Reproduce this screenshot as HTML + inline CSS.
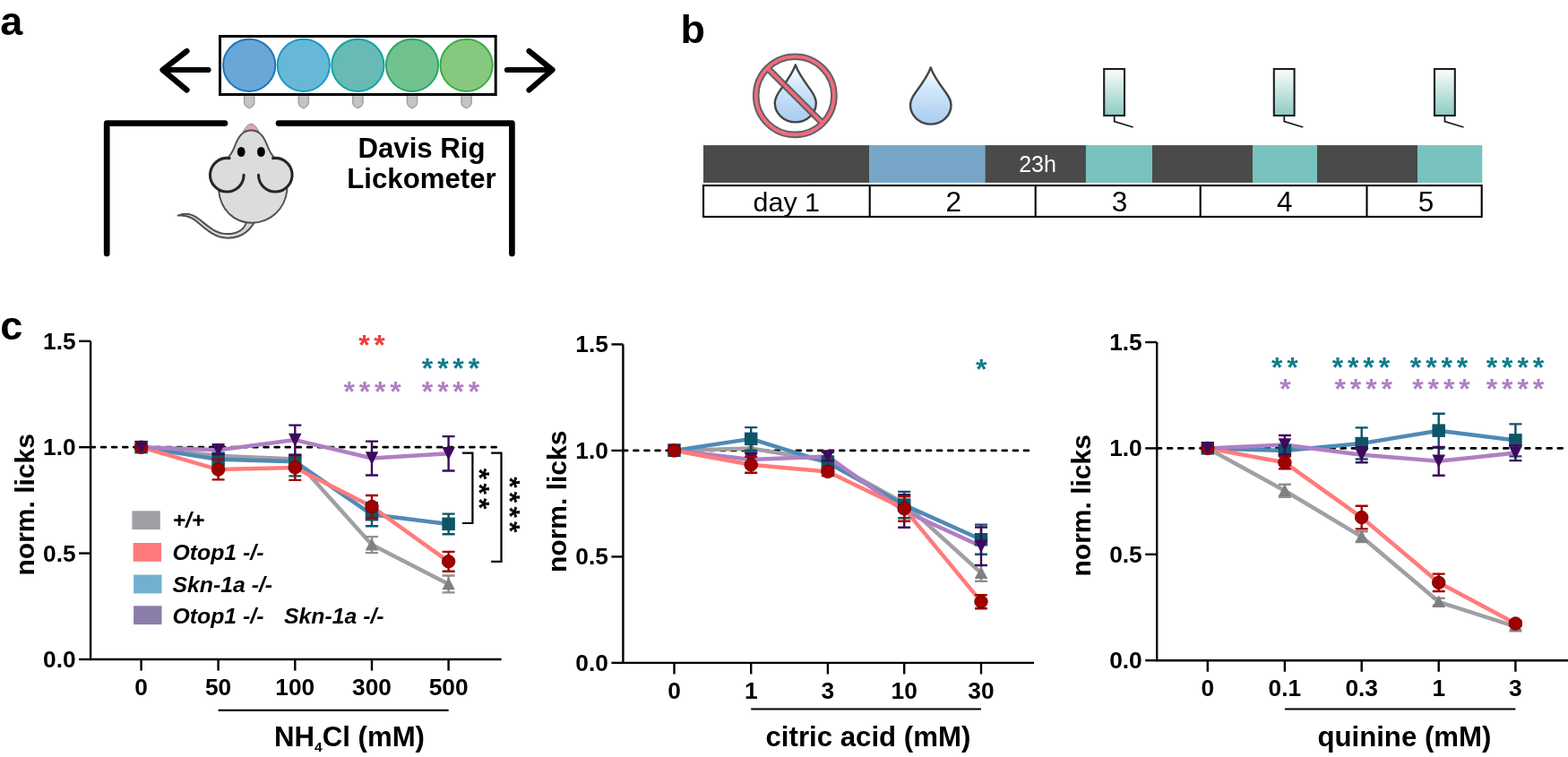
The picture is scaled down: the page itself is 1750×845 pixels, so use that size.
<!DOCTYPE html>
<html><head><meta charset="utf-8"><title>Figure</title>
<style>
html,body{margin:0;padding:0;background:#fff;width:1750px;height:845px;overflow:hidden}
svg{display:block}
text{font-family:"Liberation Sans", Arial, sans-serif;}
</style></head><body>
<svg width="1750" height="845" viewBox="0 0 1750 845">
<rect width="1750" height="845" fill="#fff"/>
<text x="0.3" y="39" font-size="45" font-weight="bold">a</text>
<text x="759.5" y="48.3" font-size="45" font-weight="bold">b</text>
<text x="0.3" y="378.7" font-size="45" font-weight="bold">c</text>
<g stroke="#000" stroke-width="6.2" fill="none" stroke-linecap="round" stroke-linejoin="round">
<path d="M232.5 78 H181.5 M208.5 57 L181.5 78 L208.5 100.5"/>
<path d="M566 78 H616.5 M590.5 57 L616.5 78 L590.5 100.5"/>
</g>
<path d="M272.6 106 V114.3 C272.6 117.5 276.0 120.3 278.2 120.6 C280.4 120.3 283.8 117.5 283.8 114.3 V106 Z" fill="#c4c4c4" stroke="#a6a6a6" stroke-width="1.6"/>
<path d="M333.2 106 V114.3 C333.2 117.5 336.6 120.3 338.8 120.6 C341.0 120.3 344.4 117.5 344.4 114.3 V106 Z" fill="#c4c4c4" stroke="#a6a6a6" stroke-width="1.6"/>
<path d="M393.8 106 V114.3 C393.8 117.5 397.2 120.3 399.4 120.6 C401.6 120.3 405.0 117.5 405.0 114.3 V106 Z" fill="#c4c4c4" stroke="#a6a6a6" stroke-width="1.6"/>
<path d="M454.4 106 V114.3 C454.4 117.5 457.8 120.3 460.0 120.6 C462.2 120.3 465.6 117.5 465.6 114.3 V106 Z" fill="#c4c4c4" stroke="#a6a6a6" stroke-width="1.6"/>
<path d="M515.0 106 V114.3 C515.0 117.5 518.4 120.3 520.6 120.6 C522.8 120.3 526.2 117.5 526.2 114.3 V106 Z" fill="#c4c4c4" stroke="#a6a6a6" stroke-width="1.6"/>
<rect x="245.5" y="40.5" width="307.7" height="65" fill="#fff" stroke="#000" stroke-width="3"/>
<circle cx="278.2" cy="72.8" r="29.1" fill="#6aa6d6" stroke="#1b75bc" stroke-width="2"/>
<circle cx="338.8" cy="72.8" r="29.1" fill="#66b8d6" stroke="#1a99cc" stroke-width="2"/>
<circle cx="399.4" cy="72.8" r="29.1" fill="#68bab4" stroke="#11a3a6" stroke-width="2"/>
<circle cx="460.0" cy="72.8" r="29.1" fill="#70c28f" stroke="#2ea46c" stroke-width="2"/>
<circle cx="520.6" cy="72.8" r="29.1" fill="#86c87e" stroke="#3aae48" stroke-width="2"/>
<g stroke="#000" stroke-width="6.7" fill="none" stroke-linecap="round" stroke-linejoin="round">
<path d="M119.2 283 V137.6 H251"/>
<path d="M311 137.6 H571.4 V283"/>
</g>
<text x="470.5" y="175.8" font-size="31.2" font-weight="bold" text-anchor="middle">Davis Rig</text>
<text x="470.5" y="210.4" font-size="31.2" font-weight="bold" text-anchor="middle">Lickometer</text>
<path d="M275 248 C273 256 265 261.1 254 261.1 C240 261.2 232 252 222 244.5 C214 238.5 206 237.5 198.7 240.6 C206 239.8 213 241.5 220 247.5 C230 256 240 265.7 254 265.7 C268 265.7 278 259 284.5 247 Z" fill="#d6d6d6" stroke="#505050" stroke-width="2" stroke-linejoin="round"/>
<path d="M271.5 147 Q275.5 138.6 280.3 138.3 Q285 138.6 289 147 Z" fill="#e3a6a8" stroke="#8a8a8a" stroke-width="1"/>
<path d="M280.3 145.5 C270.5 145.5 266 153 262.5 162 C259.5 170 257.5 173 254 176.5 L244 212 C246 235 262 248.7 281 248.7 C300 248.7 318 235 320.5 212 L306.6 176.5 C303.1 173 301.1 170 298.1 162 C294.6 153 290.1 145.5 280.3 145.5 Z" fill="#dcdcdc" stroke="#505050" stroke-width="2"/>
<g fill="#dcdcdc" stroke="#262626" stroke-width="3.1" stroke-linecap="round">
<path d="M272.1 195.2 A18.8 18.8 0 1 1 256.0 176.6" />
<path d="M288.5 195.2 A18.8 18.8 0 1 0 304.6 176.6" />
</g>
<ellipse cx="269.2" cy="169.5" rx="4.4" ry="5.6" fill="#000"/>
<ellipse cx="291.4" cy="169.5" rx="4.4" ry="5.6" fill="#000"/>
<defs><linearGradient id="gd" x1="0" y1="0" x2="0" y2="1"><stop offset="0.05" stop-color="#ffffff"/><stop offset="0.35" stop-color="#d3e9fb"/><stop offset="1" stop-color="#a8cbef"/></linearGradient><linearGradient id="gb" x1="0" y1="0" x2="0" y2="1"><stop offset="0" stop-color="#fbfdfd"/><stop offset="1" stop-color="#8ccbc3"/></linearGradient></defs>
<path d="M887.8 72.4 C885.1 81.1 879.1 89.1 871.1 100.1 C867.1 105.6 864.8 109.6 864.8 115.1 A23 21.3 0 0 0 910.8 115.1 C910.8 109.6 908.5 105.6 904.5 100.1 C896.5 89.1 890.5 81.1 887.8 72.4 Z" fill="url(#gd)" stroke="#454545" stroke-width="2.4" stroke-linejoin="round"/>
<g opacity="0.93">
<circle cx="887.3" cy="106.8" r="43.6" fill="none" stroke="#52575a" stroke-width="7.6"/>
<line x1="856.5" y1="76" x2="918.1" y2="137.6" stroke="#52575a" stroke-width="7.6"/>
<circle cx="887.3" cy="106.8" r="43.6" fill="none" stroke="#f65f70" stroke-width="3.6"/>
<line x1="856.5" y1="76" x2="918.1" y2="137.6" stroke="#f65f70" stroke-width="3.6"/>
</g>
<path d="M1038.7 75.3 C1036.0 84.0 1030.0 92.0 1022.0 103.0 C1018.0 108.5 1016.0 111.8 1016.0 117.3 A22.75 21.3 0 0 0 1061.5 117.3 C1061.5 111.8 1059.4 108.5 1055.4 103.0 C1047.4 92.0 1041.4 84.0 1038.7 75.3 Z" fill="url(#gd)" stroke="#454545" stroke-width="2.4" stroke-linejoin="round"/>
<rect x="1232.2" y="77" width="22.8" height="52" fill="url(#gb)" stroke="#1c1c1c" stroke-width="2.1"/>
<path d="M1243.7 130 V135.6 L1264.7 142" fill="none" stroke="#1c1c1c" stroke-width="1.8"/>
<rect x="1421.8" y="77" width="22.8" height="52" fill="url(#gb)" stroke="#1c1c1c" stroke-width="2.1"/>
<path d="M1433.3 130 V135.6 L1454.3 142" fill="none" stroke="#1c1c1c" stroke-width="1.8"/>
<rect x="1601.0" y="77" width="22.8" height="52" fill="url(#gb)" stroke="#1c1c1c" stroke-width="2.1"/>
<path d="M1612.5 130 V135.6 L1633.5 142" fill="none" stroke="#1c1c1c" stroke-width="1.8"/>
<rect x="785" y="162.1" width="185.3" height="41.8" fill="#4a4a4a"/>
<rect x="970" y="162.1" width="129.9" height="41.8" fill="#78a6c8"/>
<rect x="1099.6" y="162.1" width="112.6" height="41.8" fill="#4a4a4a"/>
<rect x="1211.9" y="162.1" width="74.4" height="41.8" fill="#78c3bd"/>
<rect x="1286" y="162.1" width="112.5" height="41.8" fill="#4a4a4a"/>
<rect x="1398.2" y="162.1" width="72.1" height="41.8" fill="#78c3bd"/>
<rect x="1470" y="162.1" width="112.3" height="41.8" fill="#4a4a4a"/>
<rect x="1582" y="162.1" width="72.3" height="41.8" fill="#78c3bd"/>
<text x="1158" y="192.2" font-size="25" fill="#fff" text-anchor="middle">23h</text>
<rect x="785.05" y="207.05" width="868.65" height="34.9" fill="none" stroke="#000" stroke-width="2.1"/>
<line x1="970.7" y1="207.05" x2="970.7" y2="241.95" stroke="#000" stroke-width="2.1"/>
<line x1="1155.7" y1="207.05" x2="1155.7" y2="241.95" stroke="#000" stroke-width="2.1"/>
<line x1="1339.7" y1="207.05" x2="1339.7" y2="241.95" stroke="#000" stroke-width="2.1"/>
<line x1="1525.5" y1="207.05" x2="1525.5" y2="241.95" stroke="#000" stroke-width="2.1"/>
<text x="877.8" y="235.9" font-size="30.4" text-anchor="middle">day 1</text>
<text x="1064.2" y="235.9" font-size="31.5" text-anchor="middle">2</text>
<text x="1249.4" y="235.9" font-size="31.5" text-anchor="middle">3</text>
<text x="1433.7" y="235.9" font-size="31.5" text-anchor="middle">4</text>
<text x="1591.4" y="235.9" font-size="31.5" text-anchor="middle">5</text>
<g stroke="#000" stroke-width="2.4" fill="none">
<path d="M101.1 380.79999999999995 V736.0 H559.6"/>
<line x1="88.1" y1="736.0" x2="101.1" y2="736.0"/>
<line x1="88.1" y1="617.6" x2="101.1" y2="617.6"/>
<line x1="88.1" y1="499.2" x2="101.1" y2="499.2"/>
<line x1="88.1" y1="380.8" x2="101.1" y2="380.8"/>
<line x1="157.6" y1="736.0" x2="157.6" y2="748.6"/>
<line x1="243.6" y1="736.0" x2="243.6" y2="748.6"/>
<line x1="329.3" y1="736.0" x2="329.3" y2="748.6"/>
<line x1="415.0" y1="736.0" x2="415.0" y2="748.6"/>
<line x1="500.6" y1="736.0" x2="500.6" y2="748.6"/>
<line x1="243.6" y1="792.8" x2="500.6" y2="792.8" stroke-width="2.2"/>
</g>
<line x1="101.0" y1="499.20" x2="553.6" y2="499.20" stroke="#000" stroke-width="2.7" stroke-dasharray="4.9 7.2" stroke-linecap="round"/>
<text x="84.6" y="745.0" font-size="26.3" font-weight="bold" text-anchor="end">0.0</text>
<text x="84.6" y="626.6" font-size="26.3" font-weight="bold" text-anchor="end">0.5</text>
<text x="84.6" y="508.2" font-size="26.3" font-weight="bold" text-anchor="end">1.0</text>
<text x="84.6" y="389.8" font-size="26.3" font-weight="bold" text-anchor="end">1.5</text>
<text x="157.6" y="776.1" font-size="26.3" font-weight="bold" text-anchor="middle">0</text>
<text x="243.6" y="776.1" font-size="26.3" font-weight="bold" text-anchor="middle">50</text>
<text x="329.3" y="776.1" font-size="26.3" font-weight="bold" text-anchor="middle">100</text>
<text x="415.0" y="776.1" font-size="26.3" font-weight="bold" text-anchor="middle">300</text>
<text x="500.6" y="776.1" font-size="26.3" font-weight="bold" text-anchor="middle">500</text>
<text transform="translate(38 563.3) rotate(-90)" font-size="30" font-weight="bold" text-anchor="middle">norm. licks</text>
<text x="306" y="833" font-size="31.2" font-weight="bold">NH<tspan font-size="15.5" dy="6">4</tspan><tspan dy="-6">Cl (mM)</tspan></text>
<polyline points="157.6,499.2 243.6,508.7 329.3,512.5 415.0,608.1 500.6,651.9" fill="none" stroke="#a0a0a4" stroke-width="4.5" stroke-linejoin="round"/>
<polyline points="157.6,499.2 243.6,512.7 329.3,515.3 415.0,574.3 500.6,584.9" fill="none" stroke="#4e8ab7" stroke-width="4.5" stroke-linejoin="round"/>
<polyline points="157.6,499.2 243.6,524.1 329.3,521.9 415.0,565.5 500.6,626.8" fill="none" stroke="#ff7b7b" stroke-width="4.5" stroke-linejoin="round"/>
<polyline points="157.6,499.2 243.6,502.3 329.3,491.1 415.0,511.5 500.6,506.3" fill="none" stroke="#b07fc4" stroke-width="4.5" stroke-linejoin="round"/>
<path d="M150.35 505.5 L157.6 491.9 L164.85 505.5 Z" fill="#808080"/>
<path d="M236.35 515.0 L243.6 501.4 L250.85 515.0 Z" fill="#808080"/>
<path d="M322.05 518.8 L329.3 505.2 L336.55 518.8 Z" fill="#808080"/>
<path d="M415.0 599.1 V617.1 M408.0 599.1 H422.0 M408.0 617.1 H422.0" stroke="#909090" stroke-width="2.4" fill="none"/>
<path d="M407.75 614.4 L415.0 600.8 L422.25 614.4 Z" fill="#808080"/>
<path d="M500.6 642.5 V661.4 M493.6 642.5 H507.6 M493.6 661.4 H507.6" stroke="#909090" stroke-width="2.4" fill="none"/>
<path d="M493.35 658.2 L500.6 644.6 L507.85 658.2 Z" fill="#808080"/>
<rect x="150.35" y="491.9" width="14.5" height="14.5" fill="#0d5566"/>
<path d="M243.6 505.6 V519.8 M236.6 505.6 H250.6 M236.6 519.8 H250.6" stroke="#0d5566" stroke-width="2.4" fill="none"/>
<rect x="236.35" y="505.5" width="14.5" height="14.5" fill="#0d5566"/>
<path d="M329.3 510.6 V531.4 M322.3 510.6 H336.3 M322.3 531.4 H336.3" stroke="#0d5566" stroke-width="2.4" fill="none"/>
<rect x="322.05" y="508.0" width="14.5" height="14.5" fill="#0d5566"/>
<path d="M415.0 561.2 V587.3 M408.0 561.2 H422.0 M408.0 587.3 H422.0" stroke="#0d5566" stroke-width="2.4" fill="none"/>
<rect x="407.75" y="567.0" width="14.5" height="14.5" fill="#0d5566"/>
<path d="M500.6 573.6 V596.3 M493.6 573.6 H507.6 M493.6 596.3 H507.6" stroke="#0d5566" stroke-width="2.4" fill="none"/>
<rect x="493.35" y="577.6" width="14.5" height="14.5" fill="#0d5566"/>
<circle cx="157.6" cy="499.2" r="7.3" fill="#a00000" stroke="#6a0000" stroke-width="0.8"/>
<path d="M243.6 512.7 V535.4 M236.6 512.7 H250.6 M236.6 535.4 H250.6" stroke="#a00000" stroke-width="2.4" fill="none"/>
<circle cx="243.6" cy="524.1" r="7.3" fill="#a00000" stroke="#6a0000" stroke-width="0.8"/>
<path d="M329.3 508.0 V535.9 M322.3 508.0 H336.3 M322.3 535.9 H336.3" stroke="#a00000" stroke-width="2.4" fill="none"/>
<circle cx="329.3" cy="521.9" r="7.3" fill="#a00000" stroke="#6a0000" stroke-width="0.8"/>
<path d="M415.0 553.0 V578.1 M408.0 553.0 H422.0 M408.0 578.1 H422.0" stroke="#a00000" stroke-width="2.4" fill="none"/>
<circle cx="415.0" cy="565.5" r="7.3" fill="#a00000" stroke="#6a0000" stroke-width="0.8"/>
<path d="M500.6 615.9 V637.7 M493.6 615.9 H507.6 M493.6 637.7 H507.6" stroke="#a00000" stroke-width="2.4" fill="none"/>
<circle cx="500.6" cy="626.8" r="7.3" fill="#a00000" stroke="#6a0000" stroke-width="0.8"/>
<path d="M150.35 491.9 L164.85 491.9 L157.6 506.5 Z" fill="#3d0a5c"/>
<path d="M243.6 497.5 V507.0 M236.6 497.5 H250.6 M236.6 507.0 H250.6" stroke="#3d0a5c" stroke-width="2.4" fill="none"/>
<path d="M236.35 495.0 L250.85 495.0 L243.6 509.6 Z" fill="#3d0a5c"/>
<path d="M329.3 474.6 V507.7 M322.3 474.6 H336.3 M322.3 507.7 H336.3" stroke="#3d0a5c" stroke-width="2.4" fill="none"/>
<path d="M322.05 483.8 L336.55 483.8 L329.3 498.4 Z" fill="#3d0a5c"/>
<path d="M415.0 492.6 V530.5 M408.0 492.6 H422.0 M408.0 530.5 H422.0" stroke="#3d0a5c" stroke-width="2.4" fill="none"/>
<path d="M407.75 504.2 L422.25 504.2 L415.0 518.8 Z" fill="#3d0a5c"/>
<path d="M500.6 487.1 V525.5 M493.6 487.1 H507.6 M493.6 525.5 H507.6" stroke="#3d0a5c" stroke-width="2.4" fill="none"/>
<path d="M493.35 499.0 L507.85 499.0 L500.6 513.6 Z" fill="#3d0a5c"/>
<text x="406.4 423.6" y="396.0" font-size="32" font-weight="bold" fill="#f03a3a" text-anchor="middle">**</text>
<text x="477.1 494.4 511.6 529.0" y="422.0" font-size="32" font-weight="bold" fill="#127b8c" text-anchor="middle">****</text>
<text x="389.7 407.0 424.2 441.6" y="447.5" font-size="32" font-weight="bold" fill="#b07fc4" text-anchor="middle">****</text>
<text x="477.1 494.4 511.6 529.0" y="447.5" font-size="32" font-weight="bold" fill="#b07fc4" text-anchor="middle">****</text>
<g stroke="#000" stroke-width="2.2" fill="none">
<path d="M516 505.7 H527.4 V584 H516"/>
<path d="M548.2 505.7 H559.5 V626.8 H548.2"/>
</g>
<text transform="translate(539.9 529) rotate(90)" font-size="32" font-weight="bold" text-anchor="middle" y="16">*</text>
<text transform="translate(539.9 545.6) rotate(90)" font-size="32" font-weight="bold" text-anchor="middle" y="16">*</text>
<text transform="translate(539.9 562.2) rotate(90)" font-size="32" font-weight="bold" text-anchor="middle" y="16">*</text>
<text transform="translate(574 538.4) rotate(90)" font-size="32" font-weight="bold" text-anchor="middle" y="16">*</text>
<text transform="translate(574 555) rotate(90)" font-size="32" font-weight="bold" text-anchor="middle" y="16">*</text>
<text transform="translate(574 571.6) rotate(90)" font-size="32" font-weight="bold" text-anchor="middle" y="16">*</text>
<text transform="translate(574 588.2) rotate(90)" font-size="32" font-weight="bold" text-anchor="middle" y="16">*</text>
<rect x="147.4" y="570.3" width="31.4" height="20.8" fill="#a0a0a4"/>
<rect x="148.6" y="606" width="31.4" height="20.8" fill="#ff7b7b"/>
<rect x="149.1" y="641.6" width="31.4" height="20.8" fill="#72b0d0"/>
<rect x="149.1" y="676.3" width="31.4" height="20.8" fill="#8a7ea8"/>
<text x="192.5" y="588.8" font-size="24.8" font-weight="bold" font-style="italic">+/+</text>
<text x="192.5" y="625.3" font-size="24.8" font-weight="bold" font-style="italic">Otop1 -/-</text>
<text x="192.5" y="661" font-size="24.8" font-weight="bold" font-style="italic">Skn-1a -/-</text>
<text x="192.5" y="695.8" font-size="24.8" font-weight="bold" font-style="italic">Otop1 -/-</text>
<text x="317" y="695.8" font-size="24.8" font-weight="bold" font-style="italic">Skn-1a -/-</text>
<g stroke="#000" stroke-width="2.4" fill="none">
<path d="M695.4 384.4 V739.9 H1154"/>
<line x1="682.4" y1="739.9" x2="695.4" y2="739.9"/>
<line x1="682.4" y1="621.4" x2="695.4" y2="621.4"/>
<line x1="682.4" y1="502.9" x2="695.4" y2="502.9"/>
<line x1="682.4" y1="384.4" x2="695.4" y2="384.4"/>
<line x1="752.5" y1="739.9" x2="752.5" y2="752.5"/>
<line x1="838.2" y1="739.9" x2="838.2" y2="752.5"/>
<line x1="923.9" y1="739.9" x2="923.9" y2="752.5"/>
<line x1="1009.2" y1="739.9" x2="1009.2" y2="752.5"/>
<line x1="1095.0" y1="739.9" x2="1095.0" y2="752.5"/>
<line x1="838.2" y1="791.5" x2="1095.0" y2="791.5" stroke-width="2.2"/>
</g>
<line x1="695.3" y1="502.90" x2="1148.1" y2="502.90" stroke="#000" stroke-width="2.7" stroke-dasharray="4.9 7.2" stroke-linecap="round"/>
<text x="678.9" y="748.9" font-size="26.3" font-weight="bold" text-anchor="end">0.0</text>
<text x="678.9" y="630.4" font-size="26.3" font-weight="bold" text-anchor="end">0.5</text>
<text x="678.9" y="511.9" font-size="26.3" font-weight="bold" text-anchor="end">1.0</text>
<text x="678.9" y="393.4" font-size="26.3" font-weight="bold" text-anchor="end">1.5</text>
<text x="752.5" y="779.6" font-size="26.3" font-weight="bold" text-anchor="middle">0</text>
<text x="838.2" y="779.6" font-size="26.3" font-weight="bold" text-anchor="middle">1</text>
<text x="923.9" y="779.6" font-size="26.3" font-weight="bold" text-anchor="middle">3</text>
<text x="1009.2" y="779.6" font-size="26.3" font-weight="bold" text-anchor="middle">10</text>
<text x="1095.0" y="779.6" font-size="26.3" font-weight="bold" text-anchor="middle">30</text>
<text transform="translate(631.6 559.8) rotate(-90)" font-size="30" font-weight="bold" text-anchor="middle">norm. licks</text>
<text x="968.9" y="833" font-size="31.2" font-weight="bold" text-anchor="middle">citric acid (mM)</text>
<polyline points="752.5,502.9 838.2,500.5 923.9,514.8 1009.2,561.7 1095.0,639.6" fill="none" stroke="#a0a0a4" stroke-width="4.5" stroke-linejoin="round"/>
<polyline points="752.5,502.9 838.2,489.9 923.9,516.6 1009.2,563.6 1095.0,602.2" fill="none" stroke="#4e8ab7" stroke-width="4.5" stroke-linejoin="round"/>
<polyline points="752.5,502.9 838.2,512.9 923.9,509.5 1009.2,570.4 1095.0,609.8" fill="none" stroke="#b07fc4" stroke-width="4.5" stroke-linejoin="round"/>
<polyline points="752.5,502.9 838.2,518.8 923.9,526.4 1009.2,567.8 1095.0,671.6" fill="none" stroke="#ff7b7b" stroke-width="4.5" stroke-linejoin="round"/>
<path d="M745.25 509.2 L752.5 495.6 L759.75 509.2 Z" fill="#808080"/>
<path d="M838.2 495.8 V505.3 M831.2 495.8 H845.2 M831.2 505.3 H845.2" stroke="#909090" stroke-width="2.4" fill="none"/>
<path d="M830.95 506.8 L838.2 493.2 L845.45 506.8 Z" fill="#808080"/>
<path d="M923.9 510.0 V519.5 M916.9 510.0 H930.9 M916.9 519.5 H930.9" stroke="#909090" stroke-width="2.4" fill="none"/>
<path d="M916.65 521.1 L923.9 507.5 L931.15 521.1 Z" fill="#808080"/>
<path d="M1009.2 554.6 V568.8 M1002.2 554.6 H1016.2 M1002.2 568.8 H1016.2" stroke="#909090" stroke-width="2.4" fill="none"/>
<path d="M1001.95 568.0 L1009.2 554.4 L1016.45 568.0 Z" fill="#808080"/>
<path d="M1095.0 630.6 V648.7 M1088.0 630.6 H1102.0 M1088.0 648.7 H1102.0" stroke="#909090" stroke-width="2.4" fill="none"/>
<path d="M1087.75 645.9 L1095.0 632.3 L1102.25 645.9 Z" fill="#808080"/>
<rect x="745.25" y="495.6" width="14.5" height="14.5" fill="#0d5566"/>
<path d="M838.2 477.1 V502.7 M831.2 477.1 H845.2 M831.2 502.7 H845.2" stroke="#0d5566" stroke-width="2.4" fill="none"/>
<rect x="830.95" y="482.6" width="14.5" height="14.5" fill="#0d5566"/>
<path d="M923.9 509.5 V523.8 M916.9 509.5 H930.9 M916.9 523.8 H930.9" stroke="#0d5566" stroke-width="2.4" fill="none"/>
<rect x="916.65" y="509.4" width="14.5" height="14.5" fill="#0d5566"/>
<path d="M1009.2 548.9 V578.3 M1002.2 548.9 H1016.2 M1002.2 578.3 H1016.2" stroke="#0d5566" stroke-width="2.4" fill="none"/>
<rect x="1001.95" y="556.4" width="14.5" height="14.5" fill="#0d5566"/>
<path d="M1095.0 585.6 V618.8 M1088.0 585.6 H1102.0 M1088.0 618.8 H1102.0" stroke="#0d5566" stroke-width="2.4" fill="none"/>
<rect x="1087.75" y="595.0" width="14.5" height="14.5" fill="#0d5566"/>
<path d="M745.25 495.6 L759.75 495.6 L752.5 510.2 Z" fill="#3d0a5c"/>
<path d="M838.2 505.7 V520.0 M831.2 505.7 H845.2 M831.2 520.0 H845.2" stroke="#3d0a5c" stroke-width="2.4" fill="none"/>
<path d="M830.95 505.6 L845.45 505.6 L838.2 520.2 Z" fill="#3d0a5c"/>
<path d="M923.9 504.8 V514.3 M916.9 504.8 H930.9 M916.9 514.3 H930.9" stroke="#3d0a5c" stroke-width="2.4" fill="none"/>
<path d="M916.65 502.2 L931.15 502.2 L923.9 516.8 Z" fill="#3d0a5c"/>
<path d="M1009.2 552.2 V588.7 M1002.2 552.2 H1016.2 M1002.2 588.7 H1016.2" stroke="#3d0a5c" stroke-width="2.4" fill="none"/>
<path d="M1001.95 563.1 L1016.45 563.1 L1009.2 577.7 Z" fill="#3d0a5c"/>
<path d="M1095.0 588.5 V631.1 M1088.0 588.5 H1102.0 M1088.0 631.1 H1102.0" stroke="#3d0a5c" stroke-width="2.4" fill="none"/>
<path d="M1087.75 602.5 L1102.25 602.5 L1095.0 617.1 Z" fill="#3d0a5c"/>
<circle cx="752.5" cy="502.9" r="7.3" fill="#a00000" stroke="#6a0000" stroke-width="0.8"/>
<path d="M838.2 509.8 V527.8 M831.2 509.8 H845.2 M831.2 527.8 H845.2" stroke="#a00000" stroke-width="2.4" fill="none"/>
<circle cx="838.2" cy="518.8" r="7.3" fill="#a00000" stroke="#6a0000" stroke-width="0.8"/>
<path d="M923.9 521.6 V531.1 M916.9 521.6 H930.9 M916.9 531.1 H930.9" stroke="#a00000" stroke-width="2.4" fill="none"/>
<circle cx="923.9" cy="526.4" r="7.3" fill="#a00000" stroke="#6a0000" stroke-width="0.8"/>
<path d="M1009.2 553.9 V581.8 M1002.2 553.9 H1016.2 M1002.2 581.8 H1016.2" stroke="#a00000" stroke-width="2.4" fill="none"/>
<circle cx="1009.2" cy="567.8" r="7.3" fill="#a00000" stroke="#6a0000" stroke-width="0.8"/>
<path d="M1095.0 664.1 V679.2 M1088.0 664.1 H1102.0 M1088.0 679.2 H1102.0" stroke="#a00000" stroke-width="2.4" fill="none"/>
<circle cx="1095.0" cy="671.6" r="7.3" fill="#a00000" stroke="#6a0000" stroke-width="0.8"/>
<text x="1095.3" y="423.0" font-size="32" font-weight="bold" fill="#127b8c" text-anchor="middle">*</text>
<g stroke="#000" stroke-width="2.4" fill="none">
<path d="M1291.2 382.0 V737.2 H1750"/>
<line x1="1278.2" y1="737.2" x2="1291.2" y2="737.2"/>
<line x1="1278.2" y1="618.8" x2="1291.2" y2="618.8"/>
<line x1="1278.2" y1="500.4" x2="1291.2" y2="500.4"/>
<line x1="1278.2" y1="382.0" x2="1291.2" y2="382.0"/>
<line x1="1347.8" y1="737.2" x2="1347.8" y2="749.8"/>
<line x1="1433.9" y1="737.2" x2="1433.9" y2="749.8"/>
<line x1="1519.7" y1="737.2" x2="1519.7" y2="749.8"/>
<line x1="1605.7" y1="737.2" x2="1605.7" y2="749.8"/>
<line x1="1691.4" y1="737.2" x2="1691.4" y2="749.8"/>
<line x1="1433.9" y1="791.5" x2="1691.4" y2="791.5" stroke-width="2.2"/>
</g>
<line x1="1291.1000000000001" y1="500.40" x2="1744.4" y2="500.40" stroke="#000" stroke-width="2.7" stroke-dasharray="4.9 7.2" stroke-linecap="round"/>
<text x="1274.7" y="746.2" font-size="26.3" font-weight="bold" text-anchor="end">0.0</text>
<text x="1274.7" y="627.8" font-size="26.3" font-weight="bold" text-anchor="end">0.5</text>
<text x="1274.7" y="509.4" font-size="26.3" font-weight="bold" text-anchor="end">1.0</text>
<text x="1274.7" y="391.0" font-size="26.3" font-weight="bold" text-anchor="end">1.5</text>
<text x="1347.8" y="777.1" font-size="26.3" font-weight="bold" text-anchor="middle">0</text>
<text x="1433.9" y="777.1" font-size="26.3" font-weight="bold" text-anchor="middle">0.1</text>
<text x="1519.7" y="777.1" font-size="26.3" font-weight="bold" text-anchor="middle">0.3</text>
<text x="1605.7" y="777.1" font-size="26.3" font-weight="bold" text-anchor="middle">1</text>
<text x="1691.4" y="777.1" font-size="26.3" font-weight="bold" text-anchor="middle">3</text>
<text transform="translate(1217.3 564.3) rotate(-90)" font-size="30" font-weight="bold" text-anchor="middle">norm. licks</text>
<text x="1567.4" y="833" font-size="31.2" font-weight="bold" text-anchor="middle">quinine (mM)</text>
<polyline points="1347.8,500.4 1433.9,547.8 1519.7,599.1 1605.7,671.8 1691.4,699.3" fill="none" stroke="#a0a0a4" stroke-width="4.5" stroke-linejoin="round"/>
<polyline points="1347.8,500.4 1433.9,503.0 1519.7,495.0 1605.7,480.7 1691.4,491.4" fill="none" stroke="#4e8ab7" stroke-width="4.5" stroke-linejoin="round"/>
<polyline points="1347.8,500.4 1433.9,516.3 1519.7,577.6 1605.7,650.3 1691.4,696.0" fill="none" stroke="#ff7b7b" stroke-width="4.5" stroke-linejoin="round"/>
<polyline points="1347.8,500.4 1433.9,496.6 1519.7,507.7 1605.7,514.8 1691.4,505.6" fill="none" stroke="#b07fc4" stroke-width="4.5" stroke-linejoin="round"/>
<path d="M1340.55 506.7 L1347.8 493.1 L1355.05 506.7 Z" fill="#808080"/>
<path d="M1433.9 540.7 V554.9 M1426.9 540.7 H1440.9 M1426.9 554.9 H1440.9" stroke="#909090" stroke-width="2.4" fill="none"/>
<path d="M1426.65 554.1 L1433.9 540.5 L1441.15 554.1 Z" fill="#808080"/>
<path d="M1519.7 593.2 V605.1 M1512.7 593.2 H1526.7 M1512.7 605.1 H1526.7" stroke="#909090" stroke-width="2.4" fill="none"/>
<path d="M1512.45 605.4 L1519.7 591.8 L1526.95 605.4 Z" fill="#808080"/>
<path d="M1605.7 667.8 V675.9 M1598.7 667.8 H1612.7 M1598.7 675.9 H1612.7" stroke="#909090" stroke-width="2.4" fill="none"/>
<path d="M1598.45 678.1 L1605.7 664.5 L1612.95 678.1 Z" fill="#808080"/>
<path d="M1691.4 695.8 V702.9 M1684.4 695.8 H1698.4 M1684.4 702.9 H1698.4" stroke="#909090" stroke-width="2.4" fill="none"/>
<path d="M1684.15 705.6 L1691.4 692.0 L1698.65 705.6 Z" fill="#808080"/>
<rect x="1340.55" y="493.1" width="14.5" height="14.5" fill="#0d5566"/>
<path d="M1433.9 498.3 V507.7 M1426.9 498.3 H1440.9 M1426.9 507.7 H1440.9" stroke="#0d5566" stroke-width="2.4" fill="none"/>
<rect x="1426.65" y="495.8" width="14.5" height="14.5" fill="#0d5566"/>
<path d="M1519.7 477.4 V512.5 M1512.7 477.4 H1526.7 M1512.7 512.5 H1526.7" stroke="#0d5566" stroke-width="2.4" fill="none"/>
<rect x="1512.45" y="487.8" width="14.5" height="14.5" fill="#0d5566"/>
<path d="M1605.7 461.8 V499.7 M1598.7 461.8 H1612.7 M1598.7 499.7 H1612.7" stroke="#0d5566" stroke-width="2.4" fill="none"/>
<rect x="1598.45" y="473.4" width="14.5" height="14.5" fill="#0d5566"/>
<path d="M1691.4 473.4 V509.4 M1684.4 473.4 H1698.4 M1684.4 509.4 H1698.4" stroke="#0d5566" stroke-width="2.4" fill="none"/>
<rect x="1684.15" y="484.1" width="14.5" height="14.5" fill="#0d5566"/>
<circle cx="1347.8" cy="500.4" r="7.3" fill="#a00000" stroke="#6a0000" stroke-width="0.8"/>
<path d="M1433.9 509.2 V523.4 M1426.9 509.2 H1440.9 M1426.9 523.4 H1440.9" stroke="#a00000" stroke-width="2.4" fill="none"/>
<circle cx="1433.9" cy="516.3" r="7.3" fill="#a00000" stroke="#6a0000" stroke-width="0.8"/>
<path d="M1519.7 564.8 V590.4 M1512.7 564.8 H1526.7 M1512.7 590.4 H1526.7" stroke="#a00000" stroke-width="2.4" fill="none"/>
<circle cx="1519.7" cy="577.6" r="7.3" fill="#a00000" stroke="#6a0000" stroke-width="0.8"/>
<path d="M1605.7 640.6 V660.0 M1598.7 640.6 H1612.7 M1598.7 660.0 H1612.7" stroke="#a00000" stroke-width="2.4" fill="none"/>
<circle cx="1605.7" cy="650.3" r="7.3" fill="#a00000" stroke="#6a0000" stroke-width="0.8"/>
<path d="M1691.4 693.2 V698.8 M1684.4 693.2 H1698.4 M1684.4 698.8 H1698.4" stroke="#a00000" stroke-width="2.4" fill="none"/>
<circle cx="1691.4" cy="696.0" r="7.3" fill="#a00000" stroke="#6a0000" stroke-width="0.8"/>
<path d="M1340.55 493.1 L1355.05 493.1 L1347.8 507.7 Z" fill="#3d0a5c"/>
<path d="M1433.9 486.0 V507.3 M1426.9 486.0 H1440.9 M1426.9 507.3 H1440.9" stroke="#3d0a5c" stroke-width="2.4" fill="none"/>
<path d="M1426.65 489.3 L1441.15 489.3 L1433.9 503.9 Z" fill="#3d0a5c"/>
<path d="M1519.7 499.2 V516.3 M1512.7 499.2 H1526.7 M1512.7 516.3 H1526.7" stroke="#3d0a5c" stroke-width="2.4" fill="none"/>
<path d="M1512.45 500.4 L1526.95 500.4 L1519.7 515.0 Z" fill="#3d0a5c"/>
<path d="M1605.7 499.0 V530.7 M1598.7 499.0 H1612.7 M1598.7 530.7 H1612.7" stroke="#3d0a5c" stroke-width="2.4" fill="none"/>
<path d="M1598.45 507.5 L1612.95 507.5 L1605.7 522.1 Z" fill="#3d0a5c"/>
<path d="M1691.4 497.1 V514.1 M1684.4 497.1 H1698.4 M1684.4 514.1 H1698.4" stroke="#3d0a5c" stroke-width="2.4" fill="none"/>
<path d="M1684.15 498.3 L1698.65 498.3 L1691.4 512.9 Z" fill="#3d0a5c"/>
<text x="1425.2 1442.6" y="421.1" font-size="32" font-weight="bold" fill="#127b8c" text-anchor="middle">**</text>
<text x="1434.5" y="444.7" font-size="32" font-weight="bold" fill="#b07fc4" text-anchor="middle">*</text>
<text x="1493.0 1510.2 1527.6 1544.9" y="421.1" font-size="32" font-weight="bold" fill="#127b8c" text-anchor="middle">****</text>
<text x="1495.8 1513.1 1530.5 1547.8" y="444.7" font-size="32" font-weight="bold" fill="#b07fc4" text-anchor="middle">****</text>
<text x="1580.1 1597.4 1614.8 1632.0" y="421.1" font-size="32" font-weight="bold" fill="#127b8c" text-anchor="middle">****</text>
<text x="1582.5 1599.8 1617.2 1634.5" y="444.7" font-size="32" font-weight="bold" fill="#b07fc4" text-anchor="middle">****</text>
<text x="1665.0 1682.3 1699.7 1717.0" y="421.1" font-size="32" font-weight="bold" fill="#127b8c" text-anchor="middle">****</text>
<text x="1665.0 1682.3 1699.7 1717.0" y="444.7" font-size="32" font-weight="bold" fill="#b07fc4" text-anchor="middle">****</text>
</svg>
</body></html>
